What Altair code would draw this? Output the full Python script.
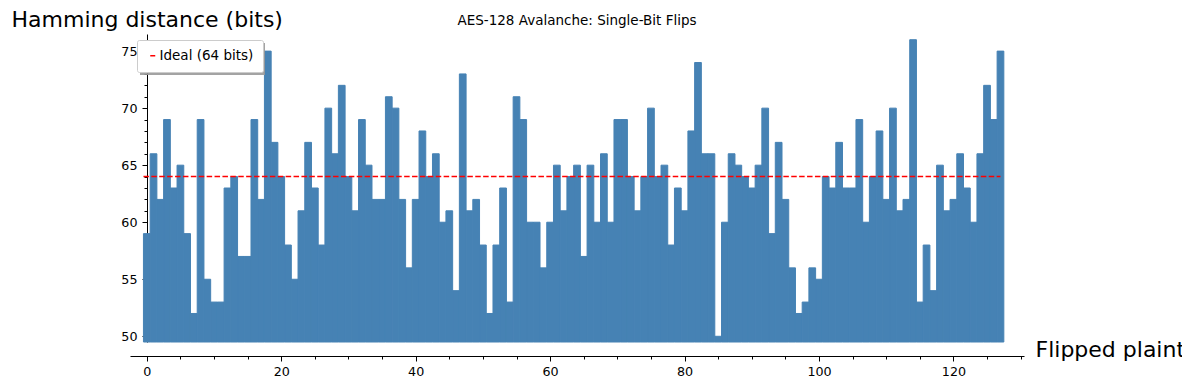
import altair as alt
import pandas as pd

# ---- data ----
bits = list(range(128))
hamming = [
    59, 66, 62, 69, 63, 65, 59, 52, 69, 55, 53, 53, 63, 64, 57, 57,
    69, 62, 75, 67, 64, 58, 55, 61, 67, 63, 58, 70, 66, 72, 64, 61,
    69, 65, 62, 62, 71, 70, 62, 56, 62, 68, 64, 66, 60, 61, 54, 73,
    61, 62, 58, 52, 58, 63, 53, 71, 69, 60, 60, 56, 60, 65, 61, 64,
    65, 57, 65, 60, 66, 60, 69, 69, 64, 61, 64, 70, 64, 65, 58, 63,
    61, 68, 74, 66, 66, 50, 60, 66, 65, 64, 63, 65, 70, 59, 67, 62,
    56, 52, 53, 56, 55, 64, 63, 67, 63, 63, 69, 60, 64, 68, 62, 70,
    61, 62, 76, 53, 58, 54, 65, 61, 62, 66, 63, 60, 66, 72, 69, 75,
]
ideal_value = [64]
ideal_label = ["Ideal (64 bits)"]
y_ticks = list(range(50, 77))
x_ticks = list(range(0, 131, 5))
y_domain = [49.5, 76.5]
x_domain = [-2.5, 130.5]

bars_df = pd.DataFrame({
    "bit": bits,
    "hamming": hamming,
    "x0": [b - 0.5 for b in bits],
    "x1": [b + 0.5 for b in bits],
})
ideal_df = pd.DataFrame({
    "xs": [bits[0] - 0.5],
    "xe": [bits[-1]],
    "y": ideal_value,
    "label": ideal_label,
})

FONT = "DejaVu Sans"
BAR = "#4682b4"
W, H = 894, 308

xscale = alt.Scale(domain=x_domain, nice=False, zero=False)
yscale = alt.Scale(domain=y_domain, nice=False, zero=False)

x_axis = alt.Axis(
    values=x_ticks,
    labelExpr="datum.value % 20 === 0 ? datum.label : ''",
    labelOverlap=False,
    tickSize={"condition": {"test": "datum.value % 20 === 0", "value": 5}, "value": 3},
    offset=14,
    grid=False,
    domainColor="black",
    tickColor="black",
    labelColor="black",
    labelFont=FONT,
    labelFontSize=12.7,
    labelPadding=4,
    labelFlush=False,
    title="Flipped plaintext bit",
    titleFont=FONT,
    titleFontSize=22,
    titleFontWeight="normal",
    titleColor="black",
    titleAngle=0,
    titleAlign="left",
    titleBaseline="alphabetic",
    titleX=905,
    titleY=0,
)
y_axis = alt.Axis(
    values=y_ticks,
    labelExpr="datum.value % 5 === 0 ? datum.label : ''",
    labelOverlap=False,
    tickSize={"condition": {"test": "datum.value % 5 === 0", "value": 5}, "value": 3},
    offset=-17,
    grid=False,
    domainColor="black",
    tickColor="black",
    labelColor="black",
    labelFont=FONT,
    labelFontSize=12.7,
    labelPadding=5,
    labelFlush=False,
    title="Hamming distance (bits)",
    titleFont=FONT,
    titleFontSize=22,
    titleFontWeight="normal",
    titleColor="black",
    titleAngle=0,
    titleAlign="left",
    titleBaseline="alphabetic",
    titleX=-136,
    titleY=-8,
)

bars = alt.Chart(bars_df).mark_bar(color=BAR, stroke=BAR, strokeWidth=1).encode(
    x=alt.X("x0:Q", scale=xscale, axis=x_axis),
    x2="x1:Q",
    y=alt.Y("hamming:Q", scale=yscale, axis=y_axis),
    y2=alt.datum(y_domain[0]),
)

shadow = alt.Chart(ideal_df).mark_rect(color="#999999", opacity=0.9).encode(
    x=alt.value(10), x2=alt.value(135), y=alt.value(9), y2=alt.value(41)
)

ideal = alt.Chart(ideal_df).mark_rule(strokeDash=[5.5, 2.4], strokeWidth=1.5).encode(
    x=alt.X("xs:Q", scale=xscale, axis=x_axis),
    x2="xe:Q",
    y=alt.Y("y:Q", scale=yscale, axis=y_axis),
    stroke=alt.Stroke(
        "label:N",
        scale=alt.Scale(domain=ideal_label, range=["red"]),
        legend=alt.Legend(
            title=None,
            orient="none",
            legendX=7,
            legendY=6,
            fillColor="white",
            strokeColor="#cccccc",
            cornerRadius=2,
            padding=9,
            symbolType="stroke",
            symbolSize=25,
            symbolStrokeWidth=1.5,
            labelFont=FONT,
            labelFontSize=13.5,
            labelColor="black",
            labelOffset=0,
        ),
    ),
)

chart = alt.layer(bars, shadow, ideal).properties(
    width=W,
    height=H,
    background="white",
    title=alt.TitleParams(
        "AES-128 Avalanche: Single-Bit Flips",
        font=FONT,
        fontSize=13.5,
        fontWeight="normal",
        color="black",
        anchor="middle",
        baseline="alphabetic",
        frame="group",
        offset=10,
        dy=40,
    ),
    autosize=alt.AutoSizeParams(type="none"),
    padding={"left": 122, "top": 26, "right": 158, "bottom": 36},
).configure_view(strokeWidth=0).configure_axis(labelOverlap=False)

chart.save("out.html", embed_options={"renderer": "svg", "actions": False})
